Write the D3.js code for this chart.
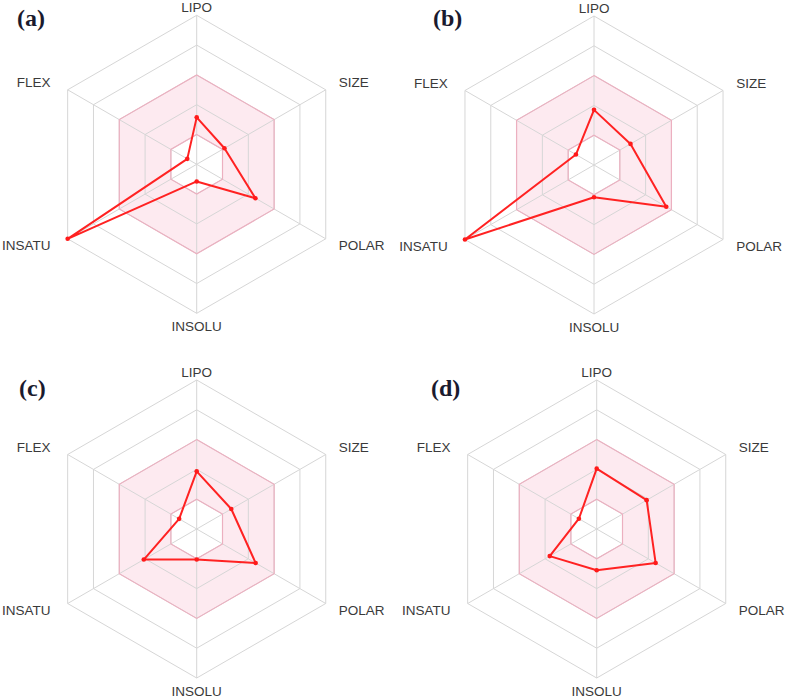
<!DOCTYPE html>
<html>
<head>
<meta charset="utf-8">
<script src="https://cdn.jsdelivr.net/npm/d3@7/dist/d3.min.js"></script>
<style>
  html, body { margin: 0; padding: 0; background: #fff; }
  svg { display: block; }
</style>
</head>
<body>
<svg id="chart" width="789" height="699"></svg>
<script>
// ---- data ----
const axes = ["LIPO", "SIZE", "POLAR", "INSOLU", "INSATU", "FLEX"];
const panelNames = ["(a)", "(b)", "(c)", "(d)"];
const valuesA = [0.315, 0.215, 0.455, 0.115, 1.00, 0.073];
const valuesB = [0.37, 0.283, 0.56, 0.216, 1.00, 0.14];
const valuesC = [0.387, 0.268, 0.457, 0.205, 0.41, 0.136];
const valuesD = [0.405, 0.387, 0.457, 0.277, 0.364, 0.138];
const gridLevels = [0.2, 0.4, 0.6, 0.8, 1.0];
const optimalRange = [0.2, 0.6];

// ---- layout ----
const R = 149;
const panels = [
  { name: panelNames[0], values: valuesA, cx: 196.7, cy: 164.3, lx: 17, ly: 26 },
  { name: panelNames[1], values: valuesB, cx: 594,   cy: 165,   lx: 433, ly: 26 },
  { name: panelNames[2], values: valuesC, cx: 196.7, cy: 529,   lx: 19, ly: 396 },
  { name: panelNames[3], values: valuesD, cx: 596.7, cy: 529,   lx: 431, ly: 396 }
];

const svg = d3.select("#chart");
const rScale = d3.scaleLinear().domain([0, 1]).range([0, R]);
const angle = d3.scalePoint().domain(axes).range([0, 2 * Math.PI * (axes.length - 1) / axes.length]);

const hexPath = lvl => d3.lineRadial()
  .angle(d => angle(d))
  .radius(() => rScale(lvl))
  .curve(d3.curveLinearClosed)(axes);

const xy = (ax, v) => {
  const a = angle(ax);
  return [rScale(v) * Math.sin(a), -rScale(v) * Math.cos(a)];
};

panels.forEach(p => {
  const g = svg.append("g").attr("transform", `translate(${p.cx},${p.cy})`);

  // optimal (pink) band
  g.append("path")
    .attr("d", hexPath(optimalRange[1]) + hexPath(optimalRange[0]))
    .attr("fill", "#fdeaf0")
    .attr("fill-rule", "evenodd")
    .attr("stroke", "none");

  // grid rings
  g.selectAll("path.ring").data(gridLevels).join("path")
    .attr("class", "ring")
    .attr("d", d => hexPath(d))
    .attr("fill", "none")
    .attr("stroke", "#d6d6d6")
    .attr("stroke-width", 1);

  // axes spokes
  g.selectAll("line.spoke").data(axes).join("line")
    .attr("class", "spoke")
    .attr("x1", 0).attr("y1", 0)
    .attr("x2", d => xy(d, 1)[0])
    .attr("y2", d => xy(d, 1)[1])
    .attr("stroke", "#d6d6d6")
    .attr("stroke-width", 1);

  // pink band edges
  g.selectAll("path.band").data(optimalRange).join("path")
    .attr("class", "band")
    .attr("d", d => hexPath(d))
    .attr("fill", "none")
    .attr("stroke", "#ecb0c0")
    .attr("stroke-width", 1.2);

  // data polygon
  const line = d3.lineRadial()
    .angle((d, i) => angle(axes[i]))
    .radius(d => rScale(d))
    .curve(d3.curveLinearClosed);
  g.append("path")
    .attr("d", line(p.values))
    .attr("fill", "none")
    .attr("stroke", "#ff2222")
    .attr("stroke-width", 2)
    .attr("stroke-linejoin", "round");

  g.selectAll("circle.pt").data(p.values).join("circle")
    .attr("class", "pt")
    .attr("cx", (d, i) => xy(axes[i], d)[0])
    .attr("cy", (d, i) => xy(axes[i], d)[1])
    .attr("r", 2.3)
    .attr("fill", "#ff1a1a");

  // axis labels
  g.selectAll("text.ax").data(axes).join("text")
    .attr("class", "ax")
    .attr("x", d => {
      const s = Math.sin(angle(d));
      if (Math.abs(s) < 0.01) return 0;
      return (R + 14) * s + (s < 0 ? -5 : 1);
    })
    .attr("y", d => {
      const a = angle(d);
      const c = Math.cos(a);
      if (Math.abs(Math.sin(a)) < 0.01) return c > 0 ? -R - 8 : R + 13;
      return -(R + 14) * c;
    })
    .attr("text-anchor", d => {
      const s = Math.sin(angle(d));
      return Math.abs(s) < 0.01 ? "middle" : (s > 0 ? "start" : "end");
    })
    .attr("dominant-baseline", "central")
    .attr("font-family", "Liberation Sans, Arial, sans-serif")
    .attr("font-size", 13.5)
    .attr("fill", "#3a3a3a")
    .text(d => d);

  // panel label
  svg.append("text")
    .attr("x", p.lx).attr("y", p.ly)
    .attr("font-family", "Liberation Serif, Times New Roman, serif")
    .attr("font-weight", "bold")
    .attr("font-size", 24)
    .attr("fill", "#1a1a2e")
    .text(p.name);
});
</script>
</body>
</html>
